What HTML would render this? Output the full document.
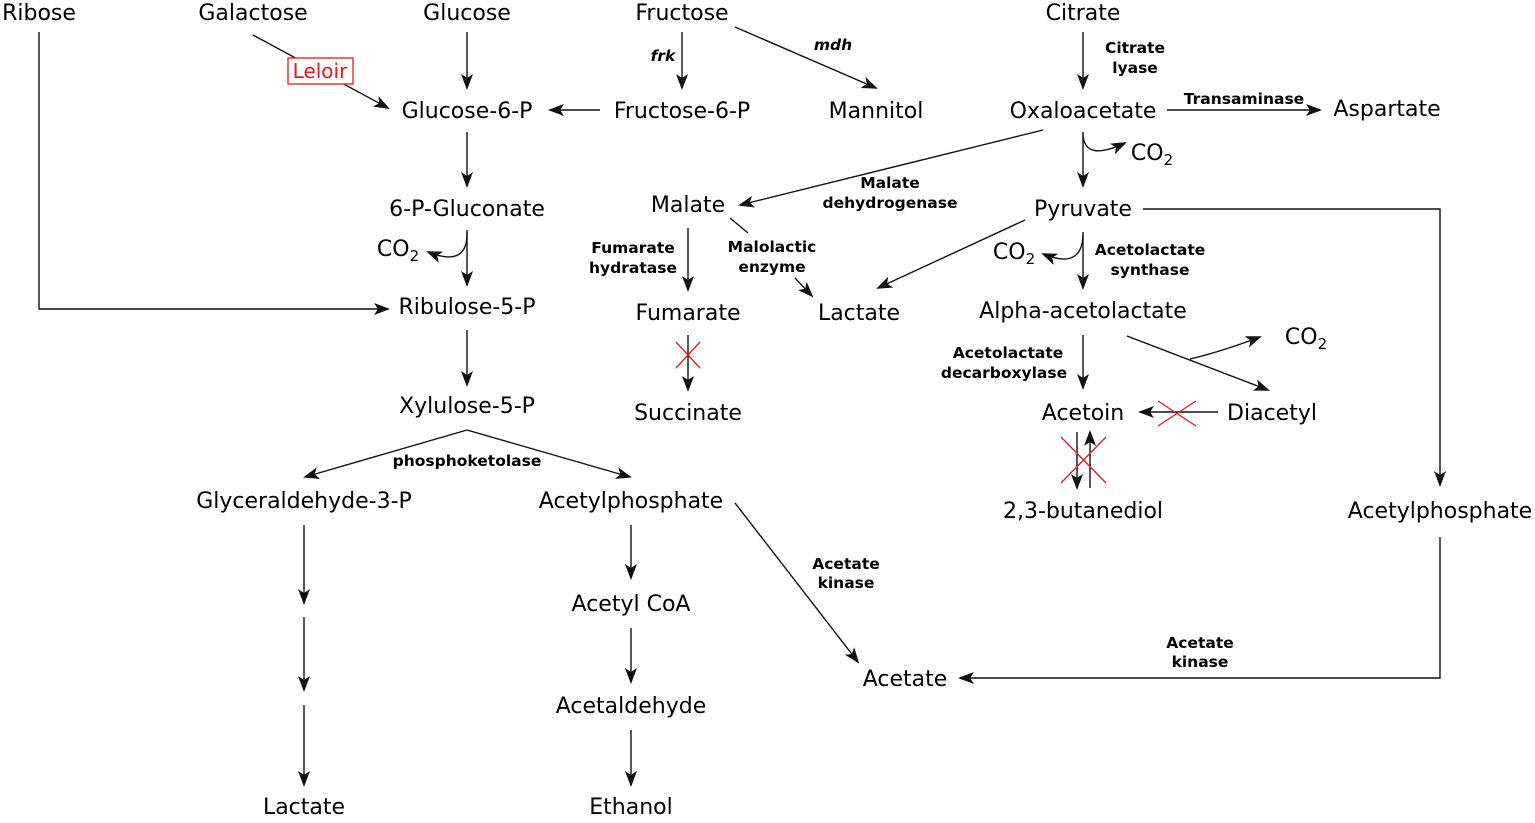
<!DOCTYPE html>
<html><head><meta charset="utf-8"><style>
html,body{margin:0;padding:0;background:#fff}
svg{display:block}
.t{font-family:"DejaVu Sans","Liberation Sans",sans-serif;font-size:22px;fill:#000;text-anchor:middle}
.e{font-family:"DejaVu Sans","Liberation Sans",sans-serif;font-size:15.5px;font-weight:bold;fill:#000;text-anchor:middle}
line,path,polyline{stroke:#111;stroke-width:1.4;fill:none}
.x{stroke:#d42020;stroke-width:1.3}
</style></head><body>
<svg width="1535" height="823" viewBox="0 0 1535 823">
<defs><marker id="a" markerWidth="16" markerHeight="12" refX="14" refY="6" orient="auto" markerUnits="userSpaceOnUse"><path d="M0,0 L16,6 L0,12 L4,6 z" style="fill:#111;stroke:none"/></marker></defs>
<g class="t">
<text x="39" y="20">Ribose</text><text x="253" y="20">Galactose</text><text x="467" y="20">Glucose</text><text x="682" y="20">Fructose</text><text x="1083" y="20">Citrate</text>
<text x="467" y="118">Glucose-6-P</text><text x="682" y="118">Fructose-6-P</text><text x="876" y="118">Mannitol</text><text x="1083" y="118">Oxaloacetate</text><text x="1387" y="116">Aspartate</text>
<text x="467" y="216">6-P-Gluconate</text><text x="688" y="212">Malate</text><text x="1083" y="216">Pyruvate</text>
<text x="398" y="256">CO<tspan font-size="15" dy="5">2</tspan></text>
<text x="1014" y="259">CO<tspan font-size="15" dy="5">2</tspan></text>
<text x="1152" y="160">CO<tspan font-size="15" dy="5">2</tspan></text>
<text x="1306" y="344">CO<tspan font-size="15" dy="5">2</tspan></text>
<text x="467" y="314">Ribulose-5-P</text><text x="688" y="320">Fumarate</text><text x="859" y="320">Lactate</text><text x="1083" y="318">Alpha-acetolactate</text>
<text x="467" y="413">Xylulose-5-P</text><text x="688" y="420">Succinate</text><text x="1083" y="420">Acetoin</text><text x="1272" y="420">Diacetyl</text>
<text x="304" y="508">Glyceraldehyde-3-P</text><text x="631" y="508">Acetylphosphate</text><text x="1083" y="518">2,3-butanediol</text><text x="1440" y="518">Acetylphosphate</text>
<text x="631" y="611">Acetyl CoA</text><text x="905" y="686">Acetate</text><text x="631" y="713">Acetaldehyde</text><text x="304" y="814">Lactate</text><text x="631" y="814">Ethanol</text>
</g>
<g class="e">
<text x="663" y="61" font-style="italic">frk</text><text x="833" y="50" font-style="italic">mdh</text>
<text x="1135" y="53">Citrate</text><text x="1135" y="73">lyase</text>
<text x="1244" y="104">Transaminase</text>
<text x="890" y="188">Malate</text><text x="890" y="208">dehydrogenase</text>
<text x="633" y="253">Fumarate</text><text x="633" y="273">hydratase</text>
<text x="772" y="252">Malolactic</text><text x="772" y="272">enzyme</text>
<text x="1150" y="255">Acetolactate</text><text x="1150" y="275">synthase</text>
<text x="1008" y="358">Acetolactate</text><text x="1004" y="378">decarboxylase</text>
<text x="467" y="466">phosphoketolase</text>
<text x="846" y="569">Acetate</text><text x="846" y="588">kinase</text>
<text x="1200" y="648">Acetate</text><text x="1200" y="667">kinase</text>
</g>
<g marker-end="url(#a)">
<line x1="467" y1="32" x2="467" y2="88"/>
<line x1="253" y1="35" x2="388" y2="108"/>
<line x1="682" y1="32" x2="682" y2="88"/>
<line x1="735" y1="27" x2="876" y2="88"/>
<line x1="1083" y1="32" x2="1083" y2="88"/>
<line x1="600" y1="110" x2="550" y2="110"/>
<line x1="1167" y1="110" x2="1320" y2="110"/>
<line x1="467" y1="132" x2="467" y2="186"/>
<line x1="1043" y1="130" x2="740" y2="205"/>
<line x1="1083" y1="132" x2="1083" y2="186"/>
<path d="M1083,135 Q1085,162 1125,143"/>
<polyline points="1143,209 1440,209 1440,485"/>
<line x1="1025" y1="220" x2="878" y2="288"/>
<line x1="688" y1="228" x2="688" y2="290"/>
<line x1="795" y1="278" x2="812" y2="296"/>
<line x1="467" y1="230" x2="467" y2="285"/>
<path d="M467,232 Q468,268 428,252"/>
<polyline points="39,32 39,309 388,309"/>
<line x1="1083" y1="232" x2="1083" y2="288"/>
<path d="M1083,235 Q1082,270 1043,254"/>
<line x1="688" y1="335" x2="688" y2="390"/>
<line x1="467" y1="330" x2="467" y2="385"/>
<line x1="1083" y1="335" x2="1083" y2="388"/>
<line x1="1127" y1="336" x2="1268" y2="390"/>
<path d="M1190,359 Q1220,352 1260,337"/>
<line x1="1218" y1="412" x2="1140" y2="412"/>
<line x1="1077" y1="432" x2="1077" y2="488"/>
<line x1="1090" y1="488" x2="1090" y2="432"/>
<line x1="467" y1="430" x2="305" y2="477"/>
<line x1="467" y1="430" x2="630" y2="477"/>
<line x1="304" y1="525" x2="304" y2="603"/>
<line x1="304" y1="617" x2="304" y2="690"/>
<line x1="304" y1="705" x2="304" y2="785"/>
<line x1="631" y1="525" x2="631" y2="578"/>
<line x1="631" y1="628" x2="631" y2="682"/>
<line x1="631" y1="730" x2="631" y2="785"/>
<line x1="735" y1="503" x2="858" y2="662"/>
<polyline points="1440,537 1440,678 960,678"/>
</g>
<line x1="730" y1="218" x2="748" y2="233"/>
<rect x="288" y="58" width="65" height="26" style="fill:#fff;stroke:#d42020;stroke-width:1.3"/>
<text x="320" y="78" style="font-family:'DejaVu Sans','Liberation Sans',sans-serif;font-size:20px;fill:#d42020;text-anchor:middle">Leloir</text>
<line class="x" x1="676" y1="342" x2="700" y2="368"/><line class="x" x1="700" y1="342" x2="676" y2="368"/>
<line class="x" x1="1158" y1="401" x2="1196" y2="426"/><line class="x" x1="1196" y1="401" x2="1158" y2="426"/>
<line class="x" x1="1061" y1="437" x2="1106" y2="483"/><line class="x" x1="1106" y1="437" x2="1061" y2="483"/>
</svg>
</body></html>
